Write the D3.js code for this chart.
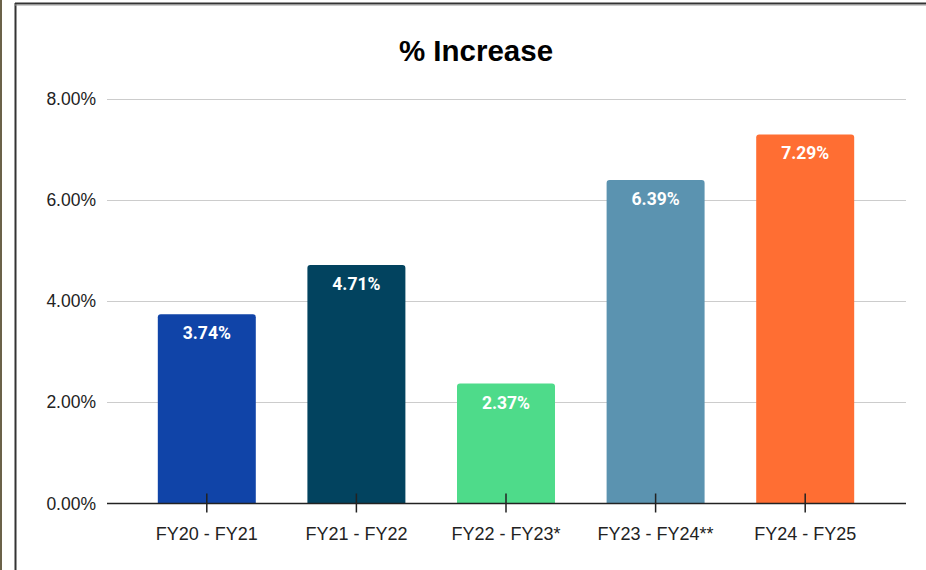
<!DOCTYPE html>
<html>
<head>
<meta charset="utf-8">
<script src="https://cdn.jsdelivr.net/npm/d3@7"></script>
<style>
  html, body { margin: 0; padding: 0; background: #fff; }
  svg { display: block; }
</style>
</head>
<body>
<svg id="chart" width="926" height="570"></svg>
<script>
// Year-over-year percentage increase
const categories = ["FY20 - FY21", "FY21 - FY22", "FY22 - FY23*", "FY23 - FY24**", "FY24 - FY25"];
const values = [3.74, 4.71, 2.37, 6.39, 7.29];
const barColors = ["#1044a8", "#02435f", "#4edb8a", "#5b93b0", "#ff6e33"];
const yTicks = [0, 2, 4, 6, 8];
const title = "% Increase";

const svg = d3.select("#chart");
const W = 926, H = 570;

// Frame: olive strip at far left, dark rule along the top and left
svg.append("rect").attr("x", 0).attr("y", 0).attr("width", 2).attr("height", H).attr("fill", "#6b6249");
svg.append("line").attr("x1", 15.5).attr("x2", 15.5).attr("y1", 3).attr("y2", H)
  .attr("stroke", "#333").attr("stroke-width", 2);
svg.append("line").attr("x1", 15).attr("x2", W).attr("y1", 3.5).attr("y2", 3.5)
  .attr("stroke", "#333").attr("stroke-width", 2);
svg.append("line").attr("x1", 15).attr("x2", W).attr("y1", 5).attr("y2", 5)
  .attr("stroke", "#999").attr("stroke-width", 1);

const plotLeft = 107, plotRight = 906;
const y = d3.scaleLinear().domain([0, 8]).range([503.5, 98.5]);
const x = d3.scaleBand().domain(categories).range([132, 880]).paddingInner(0.345).paddingOuter(0.1725);

const sans = "'Liberation Sans', Arial, sans-serif";

// Title
svg.append("text")
  .attr("x", 476).attr("y", 61)
  .attr("text-anchor", "middle")
  .attr("font-family", sans)
  .attr("font-weight", "bold")
  .attr("font-size", 29.5)
  .attr("fill", "#000")
  .text(title);

// Horizontal gridlines
svg.append("g").selectAll("line").data(yTicks.filter(d => d > 0)).join("line")
  .attr("x1", plotLeft).attr("x2", plotRight)
  .attr("y1", d => Math.round(y(d)) + 0.5).attr("y2", d => Math.round(y(d)) + 0.5)
  .attr("stroke", "#cccccc").attr("stroke-width", 1);

// Y axis labels
const yAxis = d3.axisLeft(y).tickValues(yTicks).tickFormat(d => d3.format(".2f")(d) + "%").tickSize(0).tickPadding(0);
const yg = svg.append("g").attr("transform", `translate(96,0)`).call(yAxis);
yg.select(".domain").remove();
yg.selectAll("text")
  .attr("font-family", sans)
  .attr("font-size", 17.5)
  .attr("fill", "#222");

// Bars with slightly rounded top corners
function barPath(x0, w, yTop, yBot, r) {
  return `M${x0},${yBot}V${yTop + r}Q${x0},${yTop} ${x0 + r},${yTop}H${x0 + w - r}Q${x0 + w},${yTop} ${x0 + w},${yTop + r}V${yBot}Z`;
}
const data = categories.map((c, i) => ({ c, v: values[i], color: barColors[i] }));
svg.append("g").selectAll("path").data(data).join("path")
  .attr("d", d => barPath(x(d.c), x.bandwidth(), y(d.v), y(0), 3))
  .attr("fill", d => d.color);

// Value labels
svg.append("g").selectAll("text").data(data).join("text")
  .attr("x", d => x(d.c) + x.bandwidth() / 2)
  .attr("y", d => y(d.v) + 25)
  .attr("text-anchor", "middle")
  .attr("font-family", "Roboto, 'Liberation Sans', sans-serif")
  .attr("font-weight", "bold")
  .attr("font-size", 17.5)
  .attr("fill", "#ffffff")
  .text(d => d3.format(".2f")(d.v) + "%");

// X axis baseline and ticks
svg.append("line")
  .attr("x1", plotLeft).attr("x2", plotRight)
  .attr("y1", y(0)).attr("y2", y(0))
  .attr("stroke", "#222").attr("stroke-width", 1.5);

const xAxis = d3.axisBottom(x).tickSize(0).tickPadding(0);
const xg = svg.append("g").attr("transform", `translate(0,${y(0)})`).call(xAxis);
xg.select(".domain").remove();
xg.selectAll(".tick line").remove();
xg.selectAll(".tick").append("line")
  .attr("y1", -10).attr("y2", 9)
  .attr("stroke", "#222").attr("stroke-width", 1.5);
xg.selectAll("text")
  .attr("dy", 0)
  .attr("y", 36)
  .attr("font-family", sans)
  .attr("font-size", 18)
  .attr("fill", "#222");
</script>
</body>
</html>
